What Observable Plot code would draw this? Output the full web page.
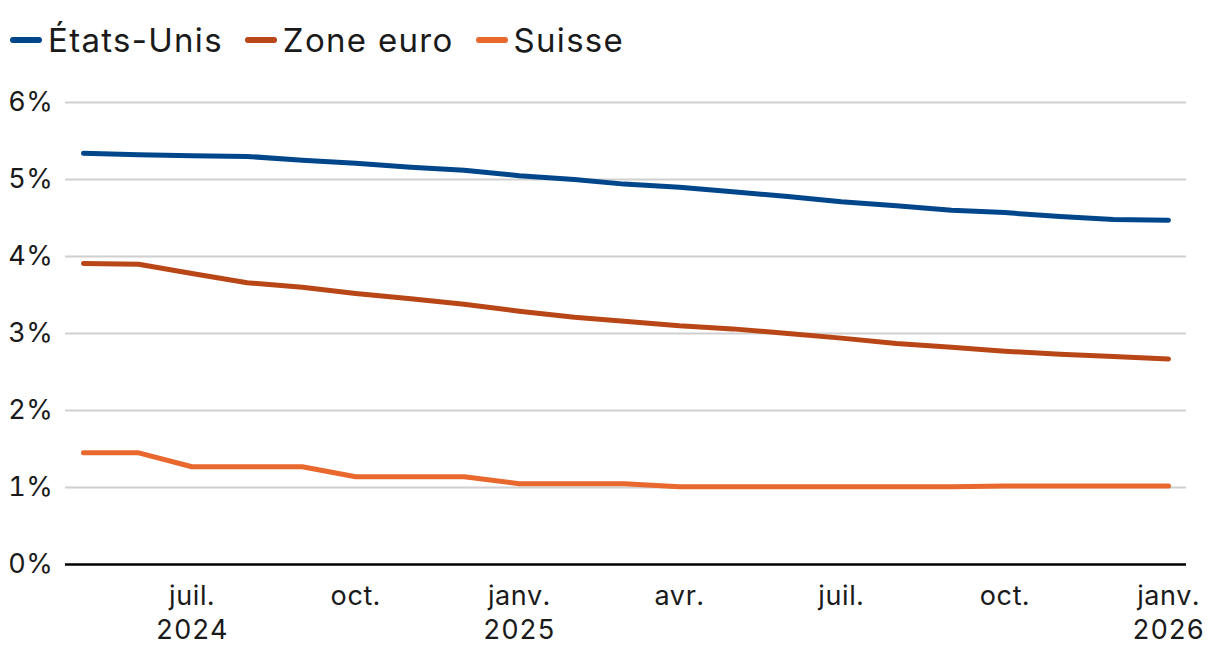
<!DOCTYPE html>
<html>
<head>
<meta charset="utf-8">
<script src="https://cdn.jsdelivr.net/npm/d3@7"></script>
<script src="https://cdn.jsdelivr.net/npm/@observablehq/plot@0.6"></script>
<style>
  html, body { margin: 0; padding: 0; background: #fff; }
  body { width: 1220px; height: 660px; overflow: hidden; font-family: Inter, "Noto Sans", sans-serif; color: #1a1a1a; }
  #legend { height: 70px; display: flex; align-items: center; padding-left: 10px; font-size: 33px; letter-spacing: 1.3px; box-sizing: border-box; padding-top: 9px; }
  .item { display: flex; align-items: center; margin-right: 22px; }
  .sw { width: 32px; height: 6px; border-radius: 3px; margin-right: 6px; }
  #chart svg { display: block; }
</style>
</head>
<body>
<div id="legend"></div>
<div id="chart"></div>
<script>
const months = ["2024-05-01","2024-06-01","2024-07-01","2024-08-01","2024-09-01","2024-10-01","2024-11-01","2024-12-01",
  "2025-01-01","2025-02-01","2025-03-01","2025-04-01","2025-05-01","2025-06-01","2025-07-01","2025-08-01",
  "2025-09-01","2025-10-01","2025-11-01","2025-12-01","2026-01-01"];
const etatsUnis = [5.34,5.32,5.31,5.30,5.25,5.21,5.16,5.12,5.05,5.00,4.94,4.90,4.84,4.78,4.71,4.66,4.60,4.57,4.52,4.48,4.47];
const zoneEuro  = [3.91,3.90,3.78,3.66,3.60,3.52,3.45,3.38,3.29,3.21,3.16,3.10,3.06,3.00,2.94,2.87,2.82,2.77,2.73,2.70,2.67];
const suisse    = [1.45,1.45,1.27,1.27,1.27,1.14,1.14,1.14,1.05,1.05,1.05,1.01,1.01,1.01,1.01,1.01,1.01,1.02,1.02,1.02,1.02];
const seriesNames = ["États-Unis","Zone euro","Suisse"];
const seriesColors = ["#00468b","#b94617","#e8682d"];
const yTicks = [0,1,2,3,4,5,6];
const xTicks = ["2024-07-01","2024-10-01","2025-01-01","2025-04-01","2025-07-01","2025-10-01","2026-01-01"];
const monthLabels = ["janv.","févr.","mars","avr.","mai","juin","juil.","août","sept.","oct.","nov.","déc."];

const seriesValues = [etatsUnis, zoneEuro, suisse];
const data = [];
seriesNames.forEach((name, i) => {
  months.forEach((m, j) => data.push({date: new Date(m + "T00:00:00"), value: seriesValues[i][j], serie: name}));
});

const legend = document.getElementById("legend");
seriesNames.forEach((n, i) => {
  const it = document.createElement("div");
  it.className = "item";
  it.innerHTML = `<span class="sw" style="background:${seriesColors[i]}"></span><span>${n}</span>`;
  legend.appendChild(it);
});

const fmtX = d => {
  const m = monthLabels[d.getMonth()];
  return d.getMonth() === 0 || d.getMonth() === 6 && d.getFullYear() === 2024 ? `${m}\n${d.getFullYear()}` : m;
};

const chart = Plot.plot({
  width: 1220,
  height: 590,
  marginLeft: 65,
  marginRight: 34,
  marginTop: 32,
  marginBottom: 96,
  insetLeft: 18,
  insetRight: 18,
  style: {fontFamily: "Inter, 'Noto Sans', sans-serif", color: "#1a1a1a", background: "#fff", letterSpacing: "0.6px"},
  x: {type: "time", domain: [new Date(months[0] + "T00:00:00"), new Date(months[months.length - 1] + "T00:00:00")]},
  y: {domain: [0, 6]},
  color: {domain: seriesNames, range: seriesColors},
  marks: [
    Plot.ruleY(yTicks.filter(d => d > 0), {stroke: "#d0d0d0", strokeWidth: 2}),
    Plot.ruleY([0], {stroke: "#000", strokeWidth: 2.5}),
    Plot.axisY({ticks: yTicks, tickFormat: d => d + "%", tickSize: 0, tickPadding: 12, fontSize: 27, label: null}),
    Plot.axisX({ticks: xTicks.map(s => new Date(s + "T00:00:00")), tickFormat: fmtX, tickSize: 0, tickPadding: 17, fontSize: 27, lineHeight: 1.25, label: null}),
    Plot.line(data, {x: "date", y: "value", z: "serie", stroke: "serie", strokeWidth: 5, strokeLinecap: "round", strokeLinejoin: "round"})
  ]
});
document.getElementById("chart").appendChild(chart);
</script>
</body>
</html>
